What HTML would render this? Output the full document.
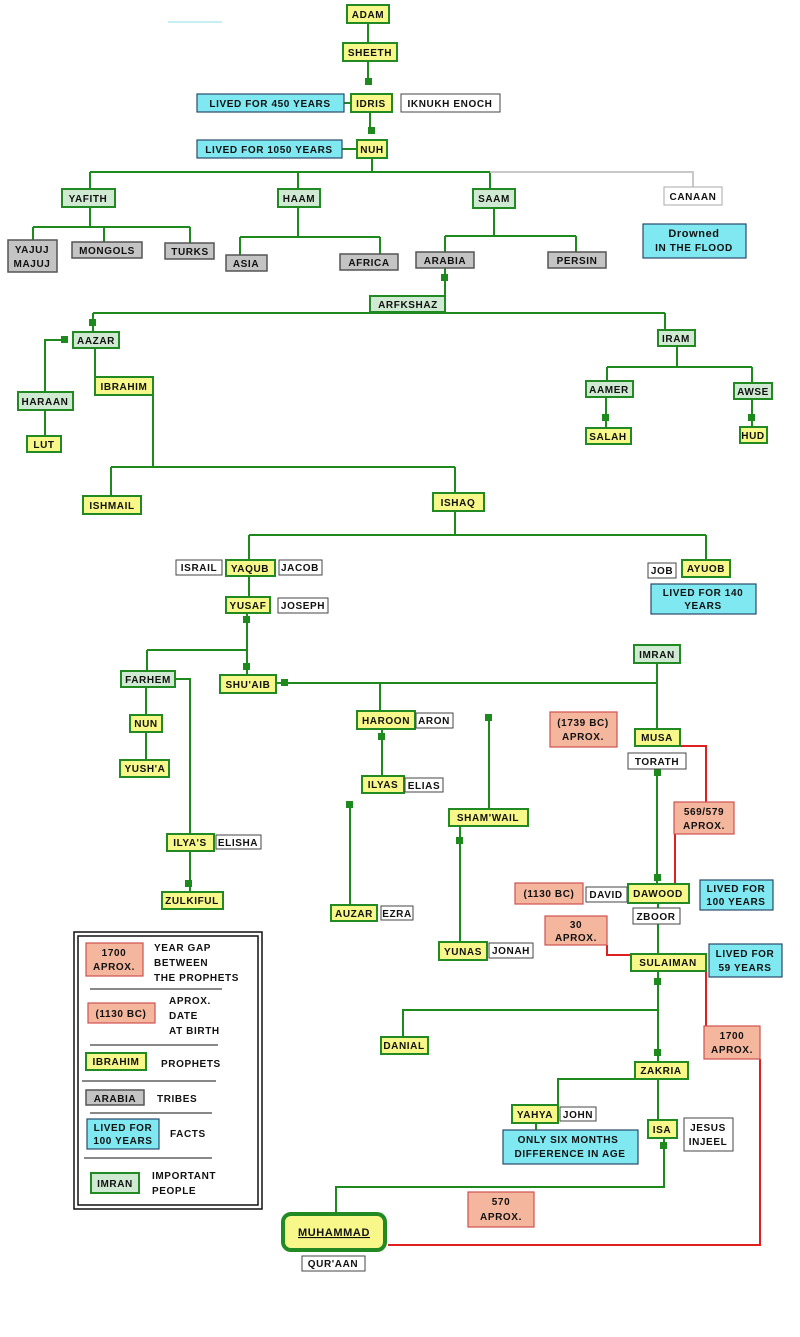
<!DOCTYPE html>
<html><head><meta charset="utf-8"><style>
html,body{margin:0;padding:0;background:#fff}
svg{display:block}
text{font-family:"Liberation Sans",sans-serif;font-weight:bold;font-size:10px;letter-spacing:.6px;text-anchor:middle;fill:#111}
text.l{text-anchor:start}
.p{fill:#f7f78a;stroke:#228a22;stroke-width:2}
.i{fill:#cfe9d3;stroke:#228a22;stroke-width:2}
.t{fill:#c4c4c4;stroke:#555;stroke-width:1.5}
.f{fill:#80e8f0;stroke:#2a4a6a;stroke-width:1.2}
.s{fill:#f4b79e;stroke:#d05050;stroke-width:1.2}
.w{fill:#fff;stroke:#444;stroke-width:1}
.g{stroke:#1e8a1e;stroke-width:2;fill:none}
.r{stroke:#e02020;stroke-width:2;fill:none}
.q{fill:#1e8a1e}
</style></head><body>
<svg width="800" height="1337" viewBox="0 0 800 1337" xmlns="http://www.w3.org/2000/svg">
<line x1="168" y1="22" x2="222" y2="22" stroke="#8fe0e8" stroke-width="1"/>
<path class="g" d="M368 23V43M368 61V80M370 112V131M372 158V172M90 172H490M90 172V189M298 172V189M490 172V189
M90 207V227M33 227H190M33 227V240M104 227V242M190 227V243
M298 207V237M240 237H380M240 237V255M380 237V254
M494 208V236M445 236H576M445 236V252M576 236V252
M445 268V296M408 312V313M93 313H665M93 313V332M665 313V330
M95 348V377M65 340H45V392M45 410V436
M153 395V467M111 467H455M111 467V496M455 467V493
M677 346V367M607 367H752M607 367V381M752 367V383M606 397V428M752 399V427
M455 511V535M249 535H706M249 535V560M706 535V560
M249 576V597M247 613V675M147 650H247M147 650V671M146 687V715M146 732V760
M175 679H190V834M190 851V892
M276 683H656M657 663V729M380 683V711M382 729V776M350 805V905M489 718V809M460 826V942
M657 769V884M658 903V955M658 971V1062M658 1010H403V1037
M658 1079H558V1105M658 1079V1120M536 1123V1130M664 1138V1187H336V1213"/>
<path d="M490 172H693V187" stroke="#c8c8c8" stroke-width="2" fill="none"/>
<path d="M344 103H351M342 149H357" stroke="#1e8a1e" stroke-width="2"/>
<path class="r" d="M680 746H706V802M675 834V884M607 945V955H632M706 962V1027M760 1059V1245H388"/>
<g class="q">
<rect x="365" y="78" width="7" height="7"/><rect x="368" y="127" width="7" height="7"/>
<rect x="441" y="274" width="7" height="7"/><rect x="89" y="319" width="7" height="7"/>
<rect x="61" y="336" width="7" height="7"/><rect x="602" y="414" width="7" height="7"/>
<rect x="748" y="414" width="7" height="7"/><rect x="243" y="616" width="7" height="7"/>
<rect x="243" y="663" width="7" height="7"/><rect x="281" y="679" width="7" height="7"/>
<rect x="378" y="733" width="7" height="7"/><rect x="185" y="880" width="7" height="7"/>
<rect x="346" y="801" width="7" height="7"/><rect x="485" y="714" width="7" height="7"/>
<rect x="456" y="837" width="7" height="7"/><rect x="654" y="769" width="7" height="7"/>
<rect x="654" y="874" width="7" height="7"/><rect x="654" y="978" width="7" height="7"/>
<rect x="654" y="1049" width="7" height="7"/><rect x="660" y="1142" width="7" height="7"/>
</g>
<rect class="p" x="347" y="5" width="42" height="18"/><text x="368" y="18">ADAM</text>
<rect class="p" x="343" y="43" width="54" height="18"/><text x="370" y="56">SHEETH</text>
<rect class="f" x="197" y="94" width="147" height="18"/><text x="270" y="107">LIVED FOR 450 YEARS</text>
<rect class="p" x="351" y="94" width="41" height="18"/><text x="371" y="107">IDRIS</text>
<rect class="w" x="401" y="94" width="99" height="18"/><text x="450" y="107">IKNUKH  ENOCH</text>
<rect class="f" x="197" y="140" width="145" height="18"/><text x="269" y="153">LIVED FOR 1050 YEARS</text>
<rect class="p" x="357" y="140" width="30" height="18"/><text x="372" y="153">NUH</text>
<rect class="i" x="62" y="189" width="53" height="18"/><text x="88" y="202">YAFITH</text>
<rect class="i" x="278" y="189" width="42" height="18"/><text x="299" y="202">HAAM</text>
<rect class="i" x="473" y="189" width="42" height="19"/><text x="494" y="202">SAAM</text>
<rect class="w" x="664" y="187" width="58" height="18" style="stroke:#aaa"/><text x="693" y="200">CANAAN</text>
<rect class="f" x="643" y="224" width="103" height="34"/><text x="694" y="237" style="font-size:11px">Drowned</text><text x="694" y="251">IN THE FLOOD</text>
<rect class="t" x="8" y="240" width="49" height="32"/><text x="32" y="253">YAJUJ</text><text x="32" y="267">MAJUJ</text>
<rect class="t" x="72" y="242" width="70" height="16"/><text x="107" y="254">MONGOLS</text>
<rect class="t" x="165" y="243" width="49" height="16"/><text x="190" y="255">TURKS</text>
<rect class="t" x="226" y="255" width="41" height="16"/><text x="246" y="267">ASIA</text>
<rect class="t" x="340" y="254" width="58" height="16"/><text x="369" y="266">AFRICA</text>
<rect class="t" x="416" y="252" width="58" height="16"/><text x="445" y="264">ARABIA</text>
<rect class="t" x="548" y="252" width="58" height="16"/><text x="577" y="264">PERSIN</text>
<rect class="i" x="370" y="296" width="75" height="16"/><text x="408" y="308">ARFKSHAZ</text>
<rect class="i" x="73" y="332" width="46" height="16"/><text x="96" y="344">AAZAR</text>
<rect class="i" x="18" y="392" width="55" height="18"/><text x="45" y="405">HARAAN</text>
<rect class="p" x="27" y="436" width="34" height="16"/><text x="44" y="448">LUT</text>
<rect class="p" x="95" y="377" width="58" height="18"/><text x="124" y="390">IBRAHIM</text>
<rect class="p" x="83" y="496" width="58" height="18"/><text x="112" y="509">ISHMAIL</text>
<rect class="p" x="433" y="493" width="51" height="18"/><text x="458" y="506">ISHAQ</text>
<rect class="i" x="658" y="330" width="37" height="16"/><text x="676" y="342">IRAM</text>
<rect class="i" x="586" y="381" width="47" height="16"/><text x="609" y="393">AAMER</text>
<rect class="p" x="586" y="428" width="45" height="16"/><text x="608" y="440">SALAH</text>
<rect class="i" x="734" y="383" width="38" height="16"/><text x="753" y="395">AWSE</text>
<rect class="p" x="740" y="427" width="27" height="16"/><text x="753" y="439">HUD</text>
<rect class="w" x="176" y="560" width="46" height="15"/><text x="199" y="571">ISRAIL</text>
<rect class="p" x="226" y="560" width="49" height="16"/><text x="250" y="572">YAQUB</text>
<rect class="w" x="279" y="560" width="43" height="15"/><text x="300" y="571">JACOB</text>
<rect class="w" x="648" y="563" width="28" height="15"/><text x="662" y="574">JOB</text>
<rect class="p" x="682" y="560" width="48" height="17"/><text x="706" y="572">AYUOB</text>
<rect class="f" x="651" y="584" width="105" height="30"/><text x="703" y="596">LIVED FOR 140</text><text x="703" y="609">YEARS</text>
<rect class="p" x="226" y="597" width="44" height="16"/><text x="248" y="609">YUSAF</text>
<rect class="w" x="278" y="598" width="50" height="15"/><text x="303" y="609">JOSEPH</text>
<rect class="i" x="121" y="671" width="54" height="16"/><text x="148" y="683">FARHEM</text>
<rect class="p" x="220" y="675" width="56" height="18"/><text x="248" y="688">SHU'AIB</text>
<rect class="i" x="634" y="645" width="46" height="18"/><text x="657" y="658">IMRAN</text>
<rect class="p" x="130" y="715" width="32" height="17"/><text x="146" y="727">NUN</text>
<rect class="p" x="120" y="760" width="49" height="17"/><text x="145" y="772">YUSH'A</text>
<rect class="p" x="357" y="711" width="58" height="18"/><text x="386" y="724">HAROON</text>
<rect class="w" x="416" y="713" width="37" height="15"/><text x="434" y="724">ARON</text>
<rect class="p" x="362" y="776" width="42" height="17"/><text x="383" y="788">ILYAS</text>
<rect class="w" x="405" y="778" width="38" height="14"/><text x="424" y="789">ELIAS</text>
<rect class="p" x="167" y="834" width="47" height="17"/><text x="190" y="846">ILYA'S</text>
<rect class="w" x="216" y="835" width="45" height="14"/><text x="238" y="846">ELISHA</text>
<rect class="p" x="162" y="892" width="61" height="17"/><text x="192" y="904">ZULKIFUL</text>
<rect class="p" x="331" y="905" width="46" height="16"/><text x="354" y="917">AUZAR</text>
<rect class="w" x="381" y="906" width="32" height="14"/><text x="397" y="917">EZRA</text>
<rect class="p" x="449" y="809" width="79" height="17"/><text x="488" y="821">SHAM'WAIL</text>
<rect class="p" x="439" y="942" width="48" height="18"/><text x="463" y="955">YUNAS</text>
<rect class="w" x="489" y="943" width="44" height="15"/><text x="511" y="954">JONAH</text>
<rect class="s" x="550" y="712" width="67" height="35"/><text x="583" y="726">(1739 BC)</text><text x="583" y="740">APROX.</text>
<rect class="p" x="635" y="729" width="45" height="17"/><text x="657" y="741">MUSA</text>
<rect class="w" x="628" y="753" width="58" height="16"/><text x="657" y="765">TORATH</text>
<rect class="s" x="674" y="802" width="60" height="32"/><text x="704" y="815">569/579</text><text x="704" y="829">APROX.</text>
<rect class="s" x="515" y="883" width="68" height="21"/><text x="549" y="897">(1130 BC)</text>
<rect class="w" x="586" y="887" width="41" height="15"/><text x="606" y="898">DAVID</text>
<rect class="p" x="628" y="884" width="61" height="19"/><text x="658" y="897">DAWOOD</text>
<rect class="f" x="700" y="880" width="73" height="30"/><text x="736" y="892">LIVED FOR</text><text x="736" y="905">100 YEARS</text>
<rect class="w" x="633" y="908" width="47" height="16"/><text x="656" y="920">ZBOOR</text>
<rect class="s" x="545" y="916" width="62" height="29"/><text x="576" y="928">30</text><text x="576" y="941">APROX.</text>
<rect class="p" x="631" y="954" width="75" height="17"/><text x="668" y="966">SULAIMAN</text>
<rect class="f" x="709" y="944" width="73" height="33"/><text x="745" y="957">LIVED FOR</text><text x="745" y="971">59 YEARS</text>
<rect class="s" x="704" y="1026" width="56" height="33"/><text x="732" y="1039">1700</text><text x="732" y="1053">APROX.</text>
<rect class="p" x="381" y="1037" width="47" height="17"/><text x="404" y="1049">DANIAL</text>
<rect class="p" x="635" y="1062" width="53" height="17"/><text x="661" y="1074">ZAKRIA</text>
<rect class="p" x="512" y="1105" width="46" height="18"/><text x="535" y="1118">YAHYA</text>
<rect class="w" x="560" y="1107" width="36" height="14"/><text x="578" y="1118">JOHN</text>
<rect class="p" x="648" y="1120" width="29" height="18"/><text x="662" y="1133">ISA</text>
<rect class="w" x="684" y="1118" width="49" height="33"/><text x="708" y="1131">JESUS</text><text x="708" y="1145">INJEEL</text>
<rect class="f" x="503" y="1130" width="135" height="34"/><text x="568" y="1143">ONLY SIX MONTHS</text><text x="570" y="1157">DIFFERENCE IN AGE</text>
<rect class="s" x="468" y="1192" width="66" height="35"/><text x="501" y="1205">570</text><text x="501" y="1220">APROX.</text>
<rect x="283" y="1214" width="102" height="36" rx="8" fill="#f7f78a" stroke="#228a22" stroke-width="4"/>
<text x="334" y="1236" style="font-size:11px;text-decoration:underline">MUHAMMAD</text>
<rect class="w" x="302" y="1256" width="63" height="15"/><text x="333" y="1267">QUR'AAN</text>
<rect x="74" y="932" width="188" height="277" fill="#fff" stroke="#111" stroke-width="1.5"/>
<rect x="78" y="936" width="180" height="269" fill="none" stroke="#111" stroke-width="1.5"/>
<rect class="s" x="86" y="943" width="57" height="33"/><text x="114" y="956">1700</text><text x="114" y="970">APROX.</text>
<text class="l" x="154" y="951">YEAR GAP</text><text class="l" x="154" y="966">BETWEEN</text><text class="l" x="154" y="981">THE PROPHETS</text>
<line x1="90" y1="989" x2="222" y2="989" stroke="#111"/>
<rect class="s" x="88" y="1003" width="67" height="20"/><text x="121" y="1017">(1130 BC)</text>
<text class="l" x="169" y="1004">APROX.</text><text class="l" x="169" y="1019">DATE</text><text class="l" x="169" y="1034">AT BIRTH</text>
<line x1="90" y1="1045" x2="218" y2="1045" stroke="#111"/>
<rect class="p" x="86" y="1053" width="60" height="17"/><text x="116" y="1065">IBRAHIM</text>
<text class="l" x="161" y="1067">PROPHETS</text>
<line x1="82" y1="1081" x2="216" y2="1081" stroke="#111"/>
<rect class="t" x="86" y="1090" width="58" height="15"/><text x="115" y="1102">ARABIA</text>
<text class="l" x="157" y="1102">TRIBES</text>
<line x1="90" y1="1113" x2="212" y2="1113" stroke="#111"/>
<rect class="f" x="87" y="1119" width="72" height="30"/><text x="123" y="1131">LIVED FOR</text><text x="123" y="1144">100 YEARS</text>
<text class="l" x="170" y="1137">FACTS</text>
<line x1="84" y1="1158" x2="212" y2="1158" stroke="#111"/>
<rect class="i" x="91" y="1173" width="48" height="20"/><text x="115" y="1187">IMRAN</text>
<text class="l" x="152" y="1179">IMPORTANT</text><text class="l" x="152" y="1194">PEOPLE</text>
</svg>
</body></html>
